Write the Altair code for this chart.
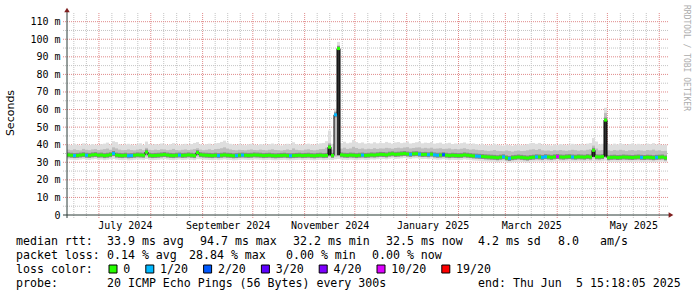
import altair as alt
import pandas as pd

# ---------------- data ----------------
median = [
    34.2, 34.0, 33.8, 33.9, 34.1, 34.3, 34.0, 33.9, 34.2, 34.4,
    34.0, 34.1, 33.8, 34.0, 34.3, 35.0, 34.1, 33.9, 33.8, 34.0,
    33.7, 33.8, 34.0, 34.2, 34.1, 34.0, 35.8, 34.0, 33.8, 33.9,
    34.0, 34.2, 34.4, 34.1, 33.9, 33.8, 34.0, 34.1, 33.9, 34.0,
    34.2, 34.0, 33.8, 35.5, 34.3, 34.1, 34.0, 33.9, 33.8, 34.0,
    33.8, 34.0, 34.2, 34.0, 33.9, 33.7, 33.8, 34.0, 34.1, 34.0,
    33.9, 34.0, 34.2, 34.1, 34.0, 33.8, 33.9, 34.0, 33.8, 33.7,
    33.8, 33.9, 34.0, 33.8, 33.7, 33.8, 33.9, 34.0, 33.8, 33.9,
    34.0, 33.8, 33.7, 33.9, 34.0, 33.8, 33.9, 38.6, 33.9, 57.0,
    94.7, 34.2, 34.0, 33.9, 34.1, 34.0, 33.8, 34.0, 34.1, 33.9,
    34.0, 34.2, 34.1, 34.3, 34.5, 34.4, 34.2, 34.6, 34.8, 34.5,
    34.6, 34.8, 35.0, 34.7, 34.5, 34.8, 34.9, 34.6, 34.4, 34.5,
    34.3, 34.6, 34.2, 34.0, 34.1, 34.3, 34.0, 33.8, 34.0, 33.9,
    33.8, 33.9, 34.2, 34.0, 33.8, 33.6, 33.5, 33.4, 33.3, 33.1,
    33.0, 32.9, 32.8, 32.6, 32.9, 33.1, 32.5, 32.2, 32.6, 32.8,
    33.0, 32.8, 32.6, 32.4, 32.7, 32.9, 33.1, 33.0, 32.8, 33.2,
    33.0, 32.8, 33.1, 33.3, 33.0, 32.9, 33.1, 33.2, 33.0, 32.9,
    33.1, 33.0, 32.9, 33.2, 33.0, 36.8, 33.1, 33.0, 33.2, 54.0,
    32.6, 32.8, 32.9, 32.7, 32.8, 33.0, 32.9, 32.8, 32.7, 32.9,
    33.0, 32.8, 32.7, 32.9, 32.8, 32.6, 32.8, 32.9, 33.0, 32.5,
]
rtt_max = [
    40.2, 39.8, 40.5, 40.0, 39.6, 40.8, 40.1, 39.9, 40.4, 40.0,
    39.7, 40.3, 40.6, 41.2, 40.0, 42.0, 41.5, 40.2, 39.8, 40.1,
    40.5, 40.0, 39.6, 40.2, 40.8, 39.9, 41.8, 40.3, 40.0, 40.4,
    40.1, 40.7, 40.2, 39.8, 40.3, 40.9, 40.0, 39.7, 40.2, 40.5,
    40.0, 40.4, 41.0, 41.5, 40.2, 39.9, 40.3, 40.6, 40.0, 40.8,
    41.0, 41.6, 42.3, 41.2, 40.5, 40.1, 39.8, 40.3, 40.0, 39.7,
    40.2, 40.5, 40.0, 39.8, 40.4, 40.1, 39.9, 40.3, 40.7, 40.2,
    40.0, 39.6, 40.1, 40.5, 40.2, 41.4, 40.3, 40.0, 39.8, 40.4,
    40.6, 40.1, 39.9, 40.3, 40.8, 41.0, 42.0, 48.0, 40.5, 60.5,
    98.5, 41.0, 41.7, 40.8, 41.2, 42.7, 41.5, 40.9, 41.3, 40.6,
    41.0, 40.7, 41.4, 40.8, 41.2, 40.9, 41.6, 41.1, 40.6, 41.3,
    41.5, 40.9, 41.2, 41.8, 40.7, 41.0, 41.4, 41.7, 40.8, 41.2,
    41.0, 41.5, 40.6, 40.9, 41.2, 40.5, 40.8, 41.1, 40.4, 40.7,
    40.5, 40.9, 41.3, 40.6, 40.2, 40.7, 40.4, 40.0, 40.3, 39.8,
    39.6, 39.9, 40.5, 40.0, 39.7, 39.5, 40.2, 39.8, 39.4, 39.9,
    40.1, 39.7, 39.9, 40.3, 40.8, 41.0, 40.5, 41.0, 40.1, 39.8,
    40.0, 39.6, 40.2, 39.9, 40.4, 40.0, 39.7, 40.1, 40.5, 40.2,
    39.9, 40.3, 40.0, 40.6, 41.0, 43.8, 41.8, 40.2, 40.5, 61.0,
    40.5, 40.0, 40.6, 40.2, 40.8, 40.3, 39.9, 40.4, 40.7, 40.1,
    40.5, 40.2, 40.0, 40.6, 40.3, 40.9, 40.1, 40.4, 39.8, 40.0,
]
rtt_hi = [
    37.2, 36.9, 37.4, 37.0, 36.8, 37.6, 37.1, 36.9, 37.3, 37.5,
    37.0, 37.2, 37.5, 37.8, 37.1, 38.5, 37.9, 37.2, 36.9, 37.0,
    37.3, 37.0, 36.8, 37.2, 37.5, 36.9, 38.2, 37.1, 36.9, 37.2,
    37.0, 37.4, 37.3, 36.9, 37.1, 37.6, 37.0, 36.8, 37.1, 37.3,
    37.0, 37.2, 37.5, 38.0, 37.2, 36.9, 37.1, 37.4, 37.0, 37.5,
    37.6, 38.0, 38.5, 37.8, 37.3, 37.0, 36.8, 37.1, 37.0, 36.8,
    37.1, 37.3, 37.0, 36.9, 37.2, 37.0, 36.8, 37.1, 37.4, 37.0,
    36.9, 36.7, 37.0, 37.3, 37.0, 37.9, 37.1, 36.9, 36.8, 37.2,
    37.4, 37.0, 36.8, 37.1, 37.5, 37.6, 38.3, 41.0, 37.2, 59.0,
    96.5, 37.8, 38.3, 37.6, 37.9, 38.8, 38.1, 37.6, 37.9, 37.4,
    37.7, 37.5, 38.0, 37.6, 37.9, 37.8, 38.2, 38.0, 37.7, 38.1,
    38.3, 38.0, 38.4, 38.6, 37.9, 38.1, 38.4, 38.5, 37.9, 38.2,
    37.9, 38.3, 37.7, 37.8, 38.0, 37.6, 37.7, 37.9, 37.4, 37.6,
    37.4, 37.7, 38.0, 37.5, 37.2, 37.4, 37.1, 36.9, 37.0, 36.6,
    36.4, 36.6, 37.0, 36.5, 36.4, 36.3, 36.7, 36.4, 36.1, 36.5,
    36.7, 36.4, 36.5, 36.8, 37.2, 37.4, 37.0, 37.5, 36.8, 36.6,
    36.7, 36.4, 36.9, 36.7, 37.0, 36.7, 36.5, 36.8, 37.1, 36.9,
    36.6, 36.9, 36.7, 37.1, 37.4, 39.5, 37.8, 36.8, 37.0, 58.0,
    36.8, 36.5, 37.0, 36.7, 37.1, 36.8, 36.4, 36.8, 37.0, 36.6,
    36.9, 36.7, 36.5, 37.0, 36.8, 37.2, 36.6, 36.8, 36.4, 36.5,
]
rtt_lo = [
    33.1, 32.9, 32.7, 32.8, 33.0, 33.2, 32.9, 32.8, 33.1, 33.3,
    32.9, 33.0, 32.7, 32.9, 33.2, 33.4, 33.0, 32.8, 32.7, 32.9,
    32.6, 32.7, 32.9, 33.1, 33.0, 32.9, 33.3, 32.9, 32.7, 32.8,
    32.9, 33.1, 33.3, 33.0, 32.8, 32.7, 32.9, 33.0, 32.8, 32.9,
    33.1, 32.9, 32.7, 33.2, 33.2, 33.0, 32.9, 32.8, 32.7, 32.9,
    32.7, 32.9, 33.1, 32.9, 32.8, 32.6, 32.7, 32.9, 33.0, 32.9,
    32.8, 32.9, 33.1, 33.0, 32.9, 32.7, 32.8, 32.9, 32.7, 32.6,
    32.7, 32.8, 32.9, 32.7, 32.6, 32.7, 32.8, 32.9, 32.7, 32.8,
    32.9, 32.7, 32.6, 32.8, 32.9, 32.7, 32.8, 33.0, 32.8, 33.2,
    33.4, 33.1, 32.9, 32.8, 33.0, 32.9, 32.7, 32.9, 33.0, 32.8,
    32.9, 33.1, 33.0, 33.2, 33.4, 33.3, 33.1, 33.5, 33.7, 33.4,
    33.5, 33.7, 33.9, 33.6, 33.4, 33.7, 33.8, 33.5, 33.3, 33.4,
    33.2, 33.5, 33.1, 32.9, 33.0, 33.2, 32.9, 32.7, 32.9, 32.8,
    32.7, 32.8, 33.1, 32.9, 32.7, 32.5, 32.4, 32.3, 32.2, 32.0,
    31.9, 31.8, 31.7, 31.5, 31.8, 32.0, 31.4, 31.2, 31.5, 31.7,
    31.9, 31.7, 31.5, 31.3, 31.6, 31.8, 32.0, 31.9, 31.7, 32.1,
    31.9, 31.7, 32.0, 32.2, 31.9, 31.8, 32.0, 32.1, 31.9, 31.8,
    32.0, 31.9, 31.8, 32.1, 31.9, 32.2, 32.0, 31.9, 32.1, 32.4,
    31.5, 31.7, 31.8, 31.6, 31.7, 31.9, 31.8, 31.7, 31.6, 31.8,
    31.9, 31.7, 31.6, 31.8, 31.7, 31.5, 31.7, 31.8, 31.9, 31.5,
]
rtt_min = [
    31.6, 31.4, 31.2, 31.3, 31.5, 31.7, 31.4, 31.3, 31.6, 31.8,
    31.4, 31.5, 31.2, 31.4, 31.7, 31.9, 31.5, 31.3, 31.2, 31.4,
    31.1, 31.2, 31.4, 31.6, 31.5, 31.4, 31.8, 31.4, 31.2, 31.3,
    31.4, 31.6, 31.8, 31.5, 31.3, 31.2, 31.4, 31.5, 31.3, 31.4,
    31.6, 31.4, 31.2, 31.7, 31.7, 31.5, 31.4, 31.3, 31.2, 31.4,
    31.2, 31.4, 31.6, 31.4, 31.3, 31.1, 31.2, 31.4, 31.5, 31.4,
    31.3, 31.4, 31.6, 31.5, 31.4, 31.2, 31.3, 31.4, 31.2, 31.1,
    31.2, 31.3, 31.4, 31.2, 31.1, 31.2, 31.3, 31.4, 31.2, 31.3,
    31.4, 31.2, 31.1, 31.3, 31.4, 31.2, 31.3, 31.5, 31.3, 31.7,
    31.9, 31.6, 31.4, 31.3, 31.5, 31.4, 31.2, 31.4, 31.5, 31.3,
    31.4, 31.6, 31.5, 31.7, 31.9, 31.8, 31.6, 32.0, 32.2, 31.9,
    32.0, 32.2, 32.4, 32.1, 31.9, 32.2, 32.3, 32.0, 31.8, 31.9,
    31.7, 32.0, 31.6, 31.4, 31.5, 31.7, 31.4, 31.2, 31.4, 31.3,
    31.2, 31.3, 31.6, 31.4, 31.2, 31.0, 30.9, 30.8, 30.7, 30.5,
    30.4, 30.3, 30.2, 30.0, 30.3, 30.5, 29.9, 29.7, 30.0, 30.2,
    30.4, 30.2, 30.0, 29.8, 30.1, 30.3, 30.5, 30.4, 30.2, 30.6,
    30.4, 30.2, 30.5, 30.7, 30.4, 30.3, 30.5, 30.6, 30.4, 30.3,
    30.5, 30.4, 30.3, 30.6, 30.4, 30.7, 30.5, 30.4, 30.6, 30.9,
    30.0, 30.2, 30.3, 30.1, 30.2, 30.4, 30.3, 30.2, 30.1, 30.3,
    30.4, 30.2, 30.1, 30.3, 30.2, 30.0, 30.2, 30.3, 30.4, 30.0,
]
# buckets with packet loss (index, loss class)
loss_idx = [2, 6, 15, 20, 21, 37, 50, 56, 58, 74, 89, 98, 114, 117, 120,
            122, 123, 125, 136, 137, 145, 147, 156, 158, 159, 163, 168, 191, 196]
loss_cls = [1, 1, 1, 1, 1, 1, 1, 1, 1, 1, 1, 1, 1, 1, 1,
            1, 1, 2, 1, 1, 1, 1, 1, 1, 1, 10, 1, 1, 1]
# dark smoke core at the spikes
core_idx = [87, 90, 175, 179]
core_lo = [33.9, 34.0, 33.1, 33.2]
core_hi = [38.6, 94.7, 36.8, 54.0]

loss_keys = [0, 1, 2, 3, 4, 10, 19]
loss_labels = ["0", "1/20", "2/20", "3/20", "4/20", "10/20", "19/20"]
loss_colors = ["#26ff00", "#00b8ff", "#0059ff", "#5e00ff", "#7e00ff", "#dd00ff", "#ff0000"]

y_ticks = [0, 10, 20, 30, 40, 50, 60, 70, 80, 90, 100, 110]
label_months = [7, 9, 11, 1, 3, 5]

legend_line1 = [("median rtt:", 16), ("33.9 ms avg", 107), ("94.7 ms max", 200),
                ("32.2 ms min", 293), ("32.5 ms now", 386), ("4.2 ms sd", 478),
                ("8.0", 558), ("am/s", 600)]
legend_line2 = [("packet loss:", 16), ("0.14 % avg", 107), ("28.84 % max", 189),
                ("0.00 % min", 286), ("0.00 % now", 372)]
legend_line4 = [("probe:", 16), ("20 ICMP Echo Pings (56 Bytes) every 300s", 107),
                ("end: Thu Jun", 478), ("5 15:18:05 2025", 576)]

N = len(median)
for arr in (rtt_max, rtt_hi, rtt_lo, rtt_min):
    assert len(arr) == N, len(arr)
assert len(loss_idx) == len(loss_cls)

# ---------------- layout ----------------
OX, OY = 67, 15
W, H = 600, 200
MONO = "DejaVu Sans Mono"

START_MS = int(pd.Timestamp("2024-06-11 22:00:00").value // 10**6)
END_MS = int(pd.Timestamp("2025-06-05 15:18:05").value // 10**6)
step = (END_MS - START_MS) / N

cls = [0] * N
for i, c in zip(loss_idx, loss_cls):
    cls[i] = c
cmap = dict(zip(loss_keys, loss_colors))

df = pd.DataFrame({
    "t0": [START_MS + i * step for i in range(N)],
    "t1": [START_MS + (i + 1) * step for i in range(N)],
    "tc": [START_MS + (i + 0.5) * step for i in range(N)],
    "med": median, "smax": rtt_max, "shi": rtt_hi, "slo": rtt_lo, "smin": rtt_min,
    "col": [cmap[c] for c in cls],
})
dcore = pd.DataFrame({
    "t0": [START_MS + i * step for i in core_idx],
    "t1": [START_MS + (i + 1) * step for i in core_idx],
    "lo": core_lo, "hi": core_hi,
})

# grid dates
months = pd.date_range("2024-06-01", "2025-07-01", freq="MS")
major, minor, labels = [], [], []
for a, b in zip(months[:-1], months[1:]):
    am, bm = a.value // 10**6, b.value // 10**6
    major.append(am)
    for k in (1, 2, 3):
        minor.append(am + k * (bm - am) / 4)
    if a.month in label_months:
        labels.append(am + (bm - am) / 2)
inside = lambda v: START_MS <= v <= END_MS
major = [v for v in major if inside(v)]
minor = [v for v in minor if inside(v)]
labels = [v for v in labels if inside(v)]

xscale = alt.Scale(type="utc", domain=[START_MS, END_MS])
yscale = alt.Scale(domain=[0, 113.8], nice=False, zero=False)

XAX = alt.Axis(values=labels, labelExpr="utcFormat(datum.value, '%B %Y')",
               labelFont=MONO, labelFontSize=10, labelColor="black",
               labelBaseline="alphabetic", labelPadding=13, ticks=False, tickSize=0,
               domain=False, grid=False, title=None, labelOverlap=False, labelFlush=False)
YAX = alt.Axis(values=y_ticks, labelExpr="datum.value == 0 ? '0' : datum.value + ' m'",
               labelFont=MONO, labelFontSize=10, labelColor="black",
               labelPadding=7, ticks=False, tickSize=0, domain=False, grid=False, title=None)


def X(f):
    return alt.X(f, type="temporal", scale=xscale, axis=XAX)


def Y(f):
    return alt.Y(f, type="quantitative", scale=yscale, axis=YAX)


one = pd.DataFrame({"a": [0]})
layers = []

# grid (under the data)
gmin_h = pd.DataFrame({"v": [v + 5 for v in y_ticks if v + 5 < 113.8]})
gmaj_h = pd.DataFrame({"v": [v for v in y_ticks if v > 0]})
layers.append(alt.Chart(gmin_h).mark_rule(color="#c4c4c4", strokeWidth=1, strokeDash=[1, 1]).encode(
    y=Y("v"), x=alt.value(-4), x2=alt.value(W + 2)))
layers.append(alt.Chart(pd.DataFrame({"t": minor})).mark_rule(color="#c4c4c4", strokeWidth=1, strokeDash=[1, 1]).encode(
    x=X("t"), y=alt.value(-2), y2=alt.value(H + 3)))
layers.append(alt.Chart(gmaj_h).mark_rule(color="#e08a8a", strokeWidth=1, strokeDash=[1, 1]).encode(
    y=Y("v"), x=alt.value(-4), x2=alt.value(W + 2)))
layers.append(alt.Chart(pd.DataFrame({"t": major})).mark_rule(color="#e08a8a", strokeWidth=1, strokeDash=[1, 1]).encode(
    x=X("t"), y=alt.value(-2), y2=alt.value(H + 3)))

base = alt.Chart(df)
layers.append(base.mark_rect(color="#dedede").encode(
    x=X("t0"), x2="t1:T", y=Y("smax"), y2="smin:Q"))
layers.append(base.mark_rect(color="#bdbdbd").encode(
    x=X("t0"), x2="t1:T", y=Y("shi"), y2="slo:Q"))
layers.append(base.mark_rule(color="#8a8a8a", strokeWidth=5).encode(
    x=X("t0"), x2="t1:T", y=Y("med")))
layers.append(alt.Chart(dcore).mark_rect(color="#2e2e2e").encode(
    x=X("t0"), x2="t1:T", y=Y("lo"), y2="hi:Q"))
layers.append(base.mark_line(color="black", strokeWidth=1, interpolate="step").encode(
    x=X("tc"), y=Y("med")))
layers.append(base.mark_rule(strokeWidth=3).encode(
    x=X("t0"), x2="t1:T", y=Y("med"), color=alt.Color("col:N", scale=None)))

# axis lines and arrows
layers.append(alt.Chart(one).mark_rule(color="#2c3c38", strokeWidth=1).encode(
    x=alt.value(0), y=alt.value(H + 3), y2=alt.value(-3)))
layers.append(alt.Chart(one).mark_rule(color="#2c3c38", strokeWidth=1).encode(
    y=alt.value(H), x=alt.value(-4), x2=alt.value(W + 2)))
layers.append(alt.Chart(one).mark_point(shape="triangle-up", filled=True, size=30, color="#7f1f1f", opacity=1).encode(
    x=alt.value(0), y=alt.value(-5)))
layers.append(alt.Chart(one).mark_point(shape="triangle-right", filled=True, size=30, color="#7f1f1f", opacity=1).encode(
    x=alt.value(W + 4), y=alt.value(H)))


def txt(s, ax, ay, size=11.6, font=MONO, color="black", align="left",
        baseline="alphabetic", angle=0):
    return alt.Chart(pd.DataFrame({"s": [s]})).mark_text(
        align=align, baseline=baseline, font=font, fontSize=size, color=color, angle=angle
    ).encode(text="s:N", x=alt.value(ax - OX), y=alt.value(ay - OY))


layers.append(txt("Seconds", 11, 113, size=11, font="DejaVu Sans", align="center",
                  baseline="middle", angle=270))
layers.append(txt("RRDTOOL / TOBI OETIKER", 686, 5, size=8, color="#acacac",
                  baseline="middle", angle=90))

for s, x in legend_line1:
    layers.append(txt(s, x, 245))
for s, x in legend_line2:
    layers.append(txt(s, x, 259))
layers.append(txt("loss color:", 16, 273))
bx = 109.0
for lab, colr in zip(loss_labels, loss_colors):
    layers.append(alt.Chart(one).mark_rect(fill=colr, stroke="black", strokeWidth=1).encode(
        x=alt.value(bx - OX), x2=alt.value(bx + 8 - OX),
        y=alt.value(265 - OY), y2=alt.value(273 - OY)))
    lx = bx + 14.3
    layers.append(txt(lab, lx, 273))
    bx = lx + 7 * len(lab) + 15.5
for s, x in legend_line4:
    layers.append(txt(s, x, 287))

chart = alt.layer(*layers).properties(
    width=W, height=H,
    padding={"left": OX, "top": OY, "right": 697 - OX - W, "bottom": 297 - OY - H},
    autosize=alt.AutoSizeParams(type="none"),
    background="white",
).configure_view(stroke=None)

chart.save("out.html", embed_options={"renderer": "svg", "actions": False})
